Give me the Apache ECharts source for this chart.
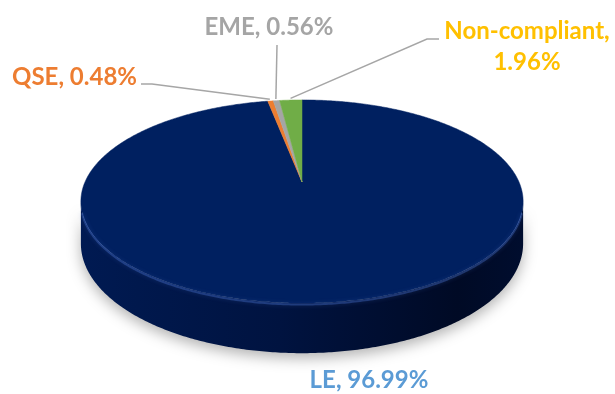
<!DOCTYPE html>
<html>
<head>
<meta charset="utf-8">
<script src="https://cdn.jsdelivr.net/npm/echarts@6/dist/echarts.min.js"></script>
<style>
  html, body { margin: 0; padding: 0; background: #ffffff; }
  #chart { width: 615px; height: 394px; }
</style>
</head>
<body>
<div id="chart"></div>
<script>
// Share of entities by category (percent)
const categories = ['LE', 'QSE', 'EME', 'Non-compliant'];
const shares = [96.99, 0.48, 0.56, 1.96];
const sliceColors = ['#002060', '#ed7d31', '#a5a5a5', '#70ad47'];
const labelColors = ['#5b9bd5', '#ed7d31', '#a5a5a5', '#ffc000'];

// Disc seen in perspective: centre of the top face, half-axes, wall thickness
// and perspective strength (larger p = back of the disc further away)
const disc = { cx: 302, cy: 182, a: 217, b: 97.8, depth: 40.5, p: 0.192 };

// Label anchors and leader-line elbows for each slice
const labelLayout = [
  { x: 369, y: 380, align: 'center', leader: null, wrap: false },
  { x: 137, y: 77, align: 'right', leader: [[141, 84], [152, 84]], wrap: false },
  { x: 269, y: 27, align: 'center', leader: [[277, 45]], wrap: false },
  { x: 527, y: 47, align: 'center', leader: [[439, 39], [427, 39]], wrap: true }
];

const TAU = Math.PI * 2;
const total = shares.reduce((a, b) => a + b, 0);

// Rim point at angle theta (clockwise from 12 o'clock); level 0 = top face, 1 = bottom face
function rimPoint(theta, level, pad) {
  const r = 1 + (pad || 0);
  const u = Math.sin(theta) * r, v = Math.cos(theta) * r;
  const w = 1 + disc.p * v;
  return [disc.cx + disc.a * u / w, disc.cy - disc.b * v / w + disc.depth * (level || 0) / w];
}
function arcPoints(a0, a1, level) {
  const n = Math.max(2, Math.ceil(Math.abs(a1 - a0) / 0.01));
  const pts = [];
  for (let i = 0; i <= n; i++) pts.push(rimPoint(a0 + (a1 - a0) * i / n, level));
  return pts;
}
// Angles where the projected rim is widest (outline of the wall)
const thetaS = Math.acos(-disc.p);

const sideFill = new echarts.graphic.LinearGradient(0, 0, 1, 0, [
  { offset: 0, color: '#001a52' },
  { offset: 0.45, color: '#001340' },
  { offset: 0.85, color: '#000a25' },
  { offset: 1, color: '#000d2e' }
]);

function renderSlice(params, api) {
  const i = params.dataIndex;
  let before = 0;
  for (let j = 0; j < i; j++) before += shares[j];
  const start = before / total * TAU;
  const end = start + api.value(0) / total * TAU;
  const mid = (start + end) / 2;
  const children = [];

  // front wall
  const lo = Math.max(start, thetaS), hi = Math.min(end, TAU - thetaS);
  if (hi > lo) {
    const top = arcPoints(lo, hi, 0);
    const bottom = arcPoints(hi, lo, 1);
    children.push({
      type: 'polygon',
      shape: { points: top.concat(bottom) },
      style: { fill: sideFill, shadowBlur: 14, shadowColor: 'rgba(0,0,0,0.3)', shadowOffsetY: 5 }
    });
  }

  // top face
  children.push({
    type: 'polygon',
    shape: { points: [[disc.cx, disc.cy]].concat(arcPoints(start, end, 0)) },
    style: { fill: sliceColors[i], stroke: sliceColors[i], lineWidth: 0.5 }
  });

  // soft bevel along the front rim
  if (hi > lo) {
    children.push({
      type: 'polyline',
      shape: { points: arcPoints(lo + 0.1, hi - 0.1, 0.03) },
      style: { stroke: 'rgba(70,110,200,0.4)', lineWidth: 2, fill: null,
               shadowBlur: 4, shadowColor: 'rgba(70,110,200,0.7)' }
    });
  }

  // label and leader
  const lay = labelLayout[i];
  const value = api.value(0).toFixed(2) + '%';
  const text = categories[i] + ',' + (lay.wrap ? '\n' : ' ') + value;
  if (lay.leader) {
    const edge = rimPoint(mid, 0, 0.025);
    children.push({
      type: 'polyline',
      shape: { points: lay.leader.concat([edge]) },
      style: { stroke: '#a6a6a6', lineWidth: 1.5, fill: null }
    });
  }
  children.push({
    type: 'text',
    style: {
      text: text, x: lay.x, y: lay.y, fill: labelColors[i],
      font: 'bold 24px Lato', align: lay.align, verticalAlign: 'middle', lineHeight: 31
    }
  });

  return { type: 'group', children: children };
}

const chart = echarts.init(document.getElementById('chart'), null, { renderer: 'canvas' });
chart.setOption({
  animation: false,
  backgroundColor: '#ffffff',
  series: [{
    type: 'custom',
    coordinateSystem: 'none',
    renderItem: renderSlice,
    data: categories.map((name, i) => ({ name: name, value: shares[i] }))
  }]
});
</script>
</body>
</html>
